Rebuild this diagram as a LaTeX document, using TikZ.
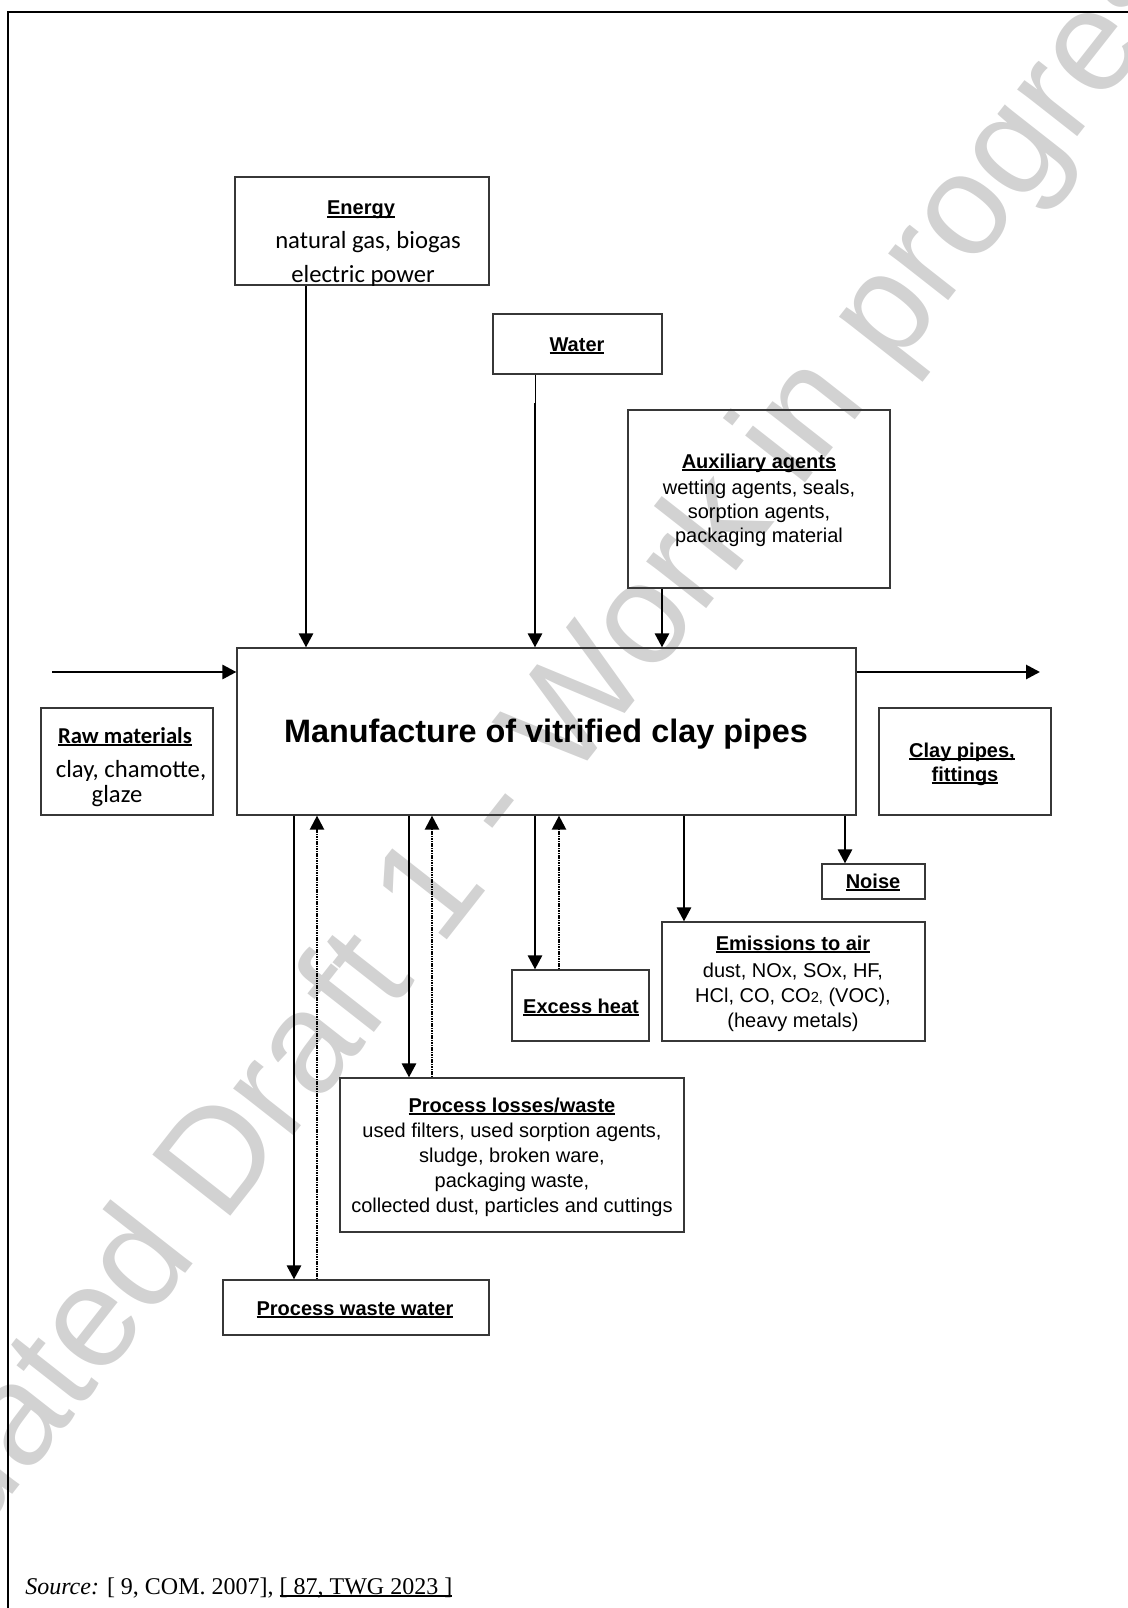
\documentclass[tikz,border=0pt]{standalone}
\usepackage{fontspec}
\setmainfont{Liberation Serif}
\newfontfamily\arialf{Liberation Sans}
\newfontfamily\calibrif{Carlito}
\usetikzlibrary{arrows.meta,fit}
\definecolor{wm}{RGB}{210,210,210}
\definecolor{bxc}{RGB}{55,55,55}
\newsavebox\ulbx
\newcommand\hdu[1]{\sbox\ulbx{#1}\rlap{\rule[-0.13em]{\wd\ulbx}{0.07em}}\usebox\ulbx}
\tikzset{
  bx/.style={draw=bxc, line width=0.9pt, inner sep=0pt},
  hd/.style={font={\arialf\bfseries\fontsize{15}{15}\selectfont}, inner sep=0pt, anchor=base},
  bd/.style={font={\arialf\fontsize{15}{15}\selectfont}, inner sep=0pt, anchor=base},
  cb/.style={font={\calibrif\fontsize{18.5}{18.5}\selectfont}, inner sep=0pt, anchor=base},
  cbh/.style={font={\calibrif\bfseries\fontsize{17}{17}\selectfont}, inner sep=0pt, anchor=base},
  arr/.style={line width=2.1pt, -{Triangle[length=10.5pt,width=10.5pt]}},
  darr/.style={line width=1.7pt, dash pattern=on 1.2pt off 0.6pt, -{Triangle[length=10.5pt,width=10.5pt]}},
}
\begin{document}
\begin{tikzpicture}[x=0.75pt,y=-0.75pt]
\useasboundingbox (0,0) rectangle (1127,1608);
% watermark
\begin{scope}
\clip (0,0) rectangle (1127,1608);
\node[wm, font={\arialf\fontsize{108}{108}\selectfont}, inner sep=0pt, anchor=base west, rotate=51.9] (wmark) at (-165,1721) {Validated Draft 1 - Work in progress};
\end{scope}
% page frame
\draw[line width=1.3pt] (8,1615) -- (8,12) -- (1135,12);

% boxes
\node[bx, fit={(235,177)(489,285)}] (energy) {};
\node[bx, fit={(493,314)(662,374)}] (water) {};
\node[bx, fit={(628,410)(890,588)}] (aux) {};
\node[bx, fit={(237,648)(856,815)}] (main) {};
\node[bx, fit={(41,708)(213,815)}] (raw) {};
\node[bx, fit={(879,708)(1051,815)}] (clay) {};
\node[bx, fit={(822,864)(925,899)}] (noise) {};
\node[bx, fit={(662,922)(925,1041)}] (emis) {};
\node[bx, fit={(512,970)(649,1041)}] (heat) {};
\node[bx, fit={(340,1078)(684,1232)}] (loss) {};
\node[bx, fit={(223,1280)(489,1335)}] (pww) {};

% texts
\node[hd] (energyH) at (361,215) {\hdu{Energy}};
\node[cb] (energy1) at (368,249) {natural gas, biogas};
\node[cb] (energy2) at (363,283) {electric power};

\node[hd] (waterH) at (577,351) {\hdu{Water}};

\node[hd] (auxH) at (759,468) {\hdu{Auxiliary agents}};
\node[bd] (aux1) at (759,494) {wetting agents, seals,};
\node[bd] (aux2) at (759,518) {sorption agents,};
\node[bd] (aux3) at (759,542) {packaging material};

\node[font={\arialf\bfseries\fontsize{24.3}{24.3}\selectfont}, inner sep=0pt, anchor=base] (mainT) at (546,742) {Manufacture of vitrified clay pipes};

\node[cbh] (rawH) at (125,743) {\hdu{Raw materials}};
\node[cb] (raw1) at (131,777) {clay, chamotte,};
\node[cb] (raw2) at (117,802) {glaze};

\node[hd] (clayH) at (962,757) {\hdu{Clay pipes,}};
\node[hd] (clayH2) at (965,781) {\hdu{fittings}};

\node[hd] (noiseH) at (873,888) {\hdu{Noise}};

\node[hd] (emisH) at (793,950) {\hdu{Emissions to air}};
\node[bd] (emis1) at (793,977) {dust, NOx, SOx, HF,};
\node[bd] (emis2) at (793,1002) {HCl, CO, CO{\fontsize{11}{11}\selectfont 2,} (VOC),};
\node[bd] (emis3) at (793,1027) {(heavy metals)};

\node[hd] (heatH) at (581,1013) {\hdu{Excess heat}};

\node[hd] (lossH) at (512,1112) {\hdu{Process losses/waste}};
\node[bd] (loss1) at (512,1137) {used filters, used sorption agents,};
\node[bd] (loss2) at (512,1162) {sludge, broken ware,};
\node[bd] (loss3) at (512,1187) {packaging waste,};
\node[bd] (loss4) at (512,1212) {collected dust, particles and cuttings};

\node[hd] (pwwH) at (355,1315) {\hdu{Process waste water}};

\node[font={\fontsize{18}{18}\selectfont}, inner sep=0pt, anchor=base west] (src) at (25,1594) {\textit{Source:} [ 9, COM. 2007], \hdu{[ 87, TWG 2023 ]}};

% connectors
\coordinate (xE) at (306,0);
\coordinate (wk) at (535,403);
\coordinate (xA) at (662,0);
\coordinate (rin) at (52,672);
\coordinate (pout) at (1040,672);
\coordinate (x1) at (294,0);
\coordinate (x2) at (317,0);
\coordinate (x3) at (409,0);
\coordinate (x4) at (432,0);
\coordinate (x5) at (535,0);
\coordinate (x6) at (559,0);
\coordinate (x7) at (684,0);
\coordinate (x8) at (845,0);

\draw[arr] (energy.south -| xE) -- (main.north -| xE);
\draw[line width=0.75pt] (water.south -| wk) -- (wk);
\draw[arr] (wk) -- (main.north -| wk);
\draw[arr] (aux.south -| xA) -- (main.north -| xA);
\draw[arr] (rin) -- (main.west |- rin);
\draw[arr] (main.east |- pout) -- (pout);

\draw[arr] (main.south -| x1) -- (pww.north -| x1);
\draw[darr] (pww.north -| x2) -- (main.south -| x2);
\draw[arr] (main.south -| x3) -- (loss.north -| x3);
\draw[darr] (loss.north -| x4) -- (main.south -| x4);
\draw[arr] (main.south -| x5) -- (heat.north -| x5);
\draw[darr] (heat.north -| x6) -- (main.south -| x6);
\draw[arr] (main.south -| x7) -- (emis.north -| x7);
\draw[arr] (main.south -| x8) -- (noise.north -| x8);
\end{tikzpicture}
\end{document}
